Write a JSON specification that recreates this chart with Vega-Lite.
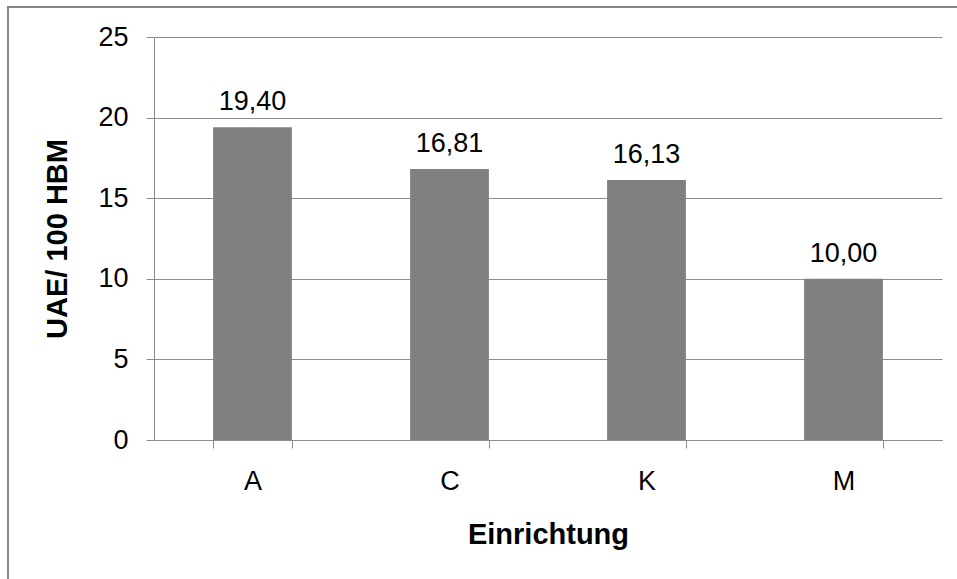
{
  "$schema": "https://vega.github.io/schema/vega-lite/v6.json",
  "autosize": {"type": "none"},
  "padding": {"left": 8, "top": 7, "right": -4, "bottom": -4},
  "width": 953,
  "height": 576,
  "background": "white",
  "data": {
    "values": [
      {"Einrichtung": "A", "UAE": 19.40},
      {"Einrichtung": "C", "UAE": 16.81},
      {"Einrichtung": "K", "UAE": 16.13},
      {"Einrichtung": "M", "UAE": 10.00}
    ]
  },
  "encoding": {
    "x": {
      "field": "Einrichtung",
      "type": "nominal",
      "sort": null,
      "scale": {"range": [146, 934], "paddingInner": 0.6, "paddingOuter": 0.3},
      "axis": {
        "title": "Einrichtung",
        "labelAngle": 0,
        "offset": -143,
        "tickBand": "extent",
        "tickSize": 8,
        "labelPadding": 20,
        "titlePadding": 26
      }
    },
    "y": {
      "field": "UAE",
      "type": "quantitative",
      "scale": {"domain": [0, 25], "range": [433, 30], "nice": false},
      "axis": {
        "title": "UAE/ 100 HBM",
        "values": [0, 5, 10, 15, 20, 25],
        "offset": -146,
        "tickSize": 8,
        "labelPadding": 18,
        "titlePadding": 25,
        "grid": true
      }
    }
  },
  "layer": [
    {"mark": {"type": "bar", "color": "#808080"}},
    {
      "mark": {"type": "text", "baseline": "alphabetic", "dy": -17, "fontSize": 27, "font": "Liberation Sans", "color": "#000000"},
      "encoding": {"text": {"field": "UAE", "type": "quantitative", "format": ".2f"}}
    }
  ],
  "config": {
    "locale": {
      "number": {"decimal": ",", "thousands": ".", "grouping": [3], "currency": ["", " €"]}
    },
    "view": {"stroke": "#868686", "strokeWidth": 2},
    "axis": {
      "domainColor": "#8c8c8c",
      "tickColor": "#8c8c8c",
      "gridColor": "#8c8c8c",
      "domainWidth": 1,
      "tickWidth": 1,
      "gridWidth": 1,
      "labelFont": "Liberation Sans",
      "labelFontSize": 27,
      "labelColor": "#000000",
      "titleFont": "Liberation Sans",
      "titleFontSize": 29,
      "titleFontWeight": "bold",
      "titleColor": "#000000"
    }
  }
}
